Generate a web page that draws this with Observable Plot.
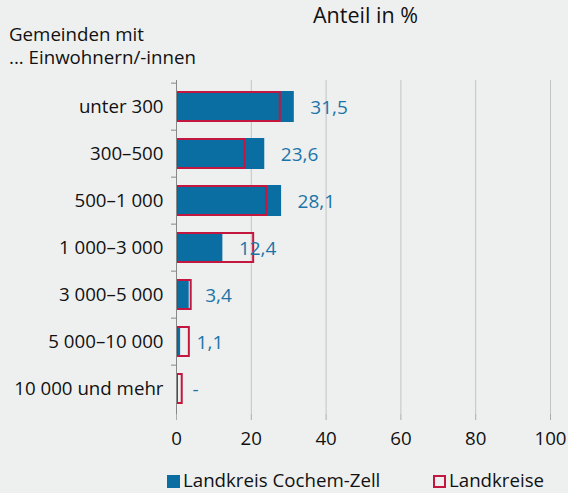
<!DOCTYPE html>
<html><head><meta charset="utf-8">
<script src="https://cdn.jsdelivr.net/npm/d3@7"></script>
<script src="https://cdn.jsdelivr.net/npm/@observablehq/plot@0.6"></script>
<style>
html,body{margin:0;padding:0;background:#eef0f0;}
#wrap{position:relative;width:568px;height:493px;font-family:"Open Sans",sans-serif;font-weight:500;color:#111;overflow:hidden;}
.t{position:absolute;white-space:nowrap;line-height:1;}
.sw{position:absolute;width:13px;height:13px;box-sizing:border-box;}
svg text{font-weight:500;}
</style></head>
<body><div id="wrap">
<div class="t" style="left:313px;top:4px;font-size:21.5px;">Anteil in %</div>
<div class="t" style="left:9px;top:25px;font-size:18.7px;">Gemeinden mit</div>
<div class="t" style="left:9px;top:48px;font-size:18.7px;">... Einwohnern/-innen</div>
<div id="leg"></div>
</div>
<script>
const categories = ["unter 300","300–500","500–1 000","1 000–3 000","3 000–5 000","5 000–10 000","10 000 und mehr"];
const cochemZell = [31.5,23.6,28.1,12.4,3.4,1.1,0];
const landkreise = [28.0,18.6,24.4,20.9,4.2,3.7,1.8];
const xTicks = [0,20,40,60,80,100];
const seriesNames = ["Landkreis Cochem-Zell","Landkreise"];
const colors = {blue:"#0b6ea3", red:"#c4173f", label:"#1b74a8"};

const rows = categories.map((c,i)=>({cat:c, cz:cochemZell[i], lk:landkreise[i],
  label: cochemZell[i] === 0 ? "-" : cochemZell[i].toLocaleString("de-DE",{minimumFractionDigits:1})}));

const W=568,H=493,mT=80,mB=79,mL=176,mR=18;
const step=(H-mT-mB)/categories.length;
const F="'Open Sans',sans-serif";

const chart = Plot.plot({
  width:W, height:H, marginTop:mT, marginBottom:mB, marginLeft:mL, marginRight:mR,
  style:{fontSize:"18.7px", fontFamily:F, background:"transparent", color:"#111"},
  x:{domain:[0,100], ticks:xTicks, label:null},
  y:{domain:categories, paddingInner:0.35, paddingOuter:0.175, label:null},
  marks:[
    Plot.gridX(xTicks.slice(1), {stroke:"#c2c4c4", strokeOpacity:1, strokeWidth:1}),
    Plot.barX(rows, {x:"cz", y:"cat", fill:colors.blue}),
    Plot.barX(rows, {x:"lk", y:"cat", fill:"none", stroke:colors.red, strokeWidth:2, inset:1}),
    Plot.text(rows, {x:"cz", y:"cat", text:"label", textAnchor:"start", dx:16, dy:1, fill:colors.label, fontSize:19, fontFamily:F}),
    Plot.ruleX([0], {stroke:"#888"}),
    Plot.ruleY([0], {frameAnchor:"bottom", stroke:"#aaa"}),
    Plot.axisY({tickSize:5, dy:-step/2, stroke:"#888", text:null, label:null}),
    Plot.axisY({tickSize:0, tickPadding:13, fill:"#111", fontSize:18.7, fontFamily:F, label:null}),
    Plot.axisX({ticks:xTicks, tickSize:6, tickPadding:11, stroke:"#aaa", fill:"#111", fontSize:18.7, fontFamily:F, label:null})
  ]
});
document.getElementById("wrap").prepend(chart);
chart.style.position="absolute"; chart.style.left="0"; chart.style.top="0";

const leg=document.getElementById("leg");
leg.innerHTML = `<span class="sw" style="left:167px;top:475px;background:${colors.blue}"></span>
<span class="t" style="left:183px;top:471px;font-size:18.7px;">${seriesNames[0]}</span>
<span class="sw" style="left:433px;top:475px;border:2px solid ${colors.red}"></span>
<span class="t" style="left:449px;top:471px;font-size:18.7px;">${seriesNames[1]}</span>`;
</script>
</body></html>
